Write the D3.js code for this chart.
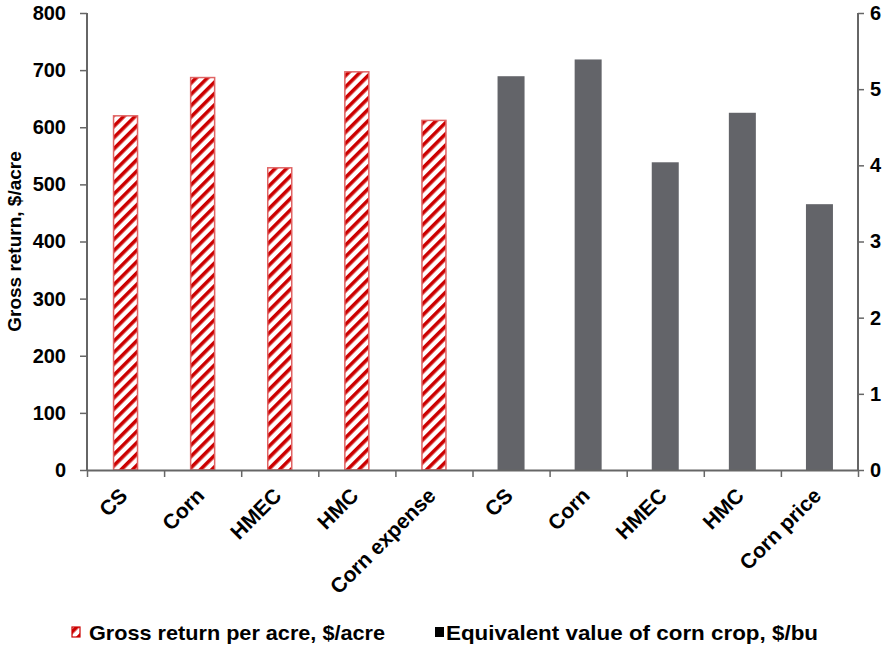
<!DOCTYPE html>
<html>
<head>
<meta charset="utf-8">
<script src="https://cdn.jsdelivr.net/npm/d3@7"></script>
<style>
  body { margin: 0; background: #fff; }
  svg text { font-family: "Liberation Sans", Arial, sans-serif; font-weight: bold; fill: #000; }
</style>
</head>
<body>
<div class="chart"></div>
<script>
let w = 889;
let h = 645;

// data
const categories = ["CS", "Corn", "HMEC", "HMC", "Corn expense", "CS", "Corn", "HMEC", "HMC", "Corn price"];
const grossReturn = [620, 687, 529, 697, 612];          // $/acre, left axis
const cornValue = [5.17, 5.39, 4.04, 4.69, 3.49];        // $/bu, right axis
const leftTicks = [0, 100, 200, 300, 400, 500, 600, 700, 800];
const rightTicks = [0, 1, 2, 3, 4, 5, 6];
const seriesNames = ["Gross return per acre, $/acre", "Equivalent value of corn crop, $/bu"];

let plotL = 87, plotR = 858, plotT = 13, plotB = 470;

const svg = d3.select(".chart")
  .append("svg")
  .attr("width", w)
  .attr("height", h);

const defs = svg.append("defs");
const pat = defs.append("pattern")
  .attr("id", "hatch")
  .attr("patternUnits", "userSpaceOnUse")
  .attr("width", 8)
  .attr("height", 8)
  .attr("patternTransform", "rotate(45)");
pat.append("rect").attr("width", 8).attr("height", 8).attr("fill", "#fff");
pat.append("rect").attr("width", 3.6).attr("height", 8).attr("fill", "#cc0000");

const xScale = d3.scaleBand()
  .domain(d3.range(categories.length))
  .range([plotL, plotR]);

const xLin = d3.scaleLinear()
  .domain([0, categories.length])
  .range([plotL, plotR]);

const yLeft = d3.scaleLinear().domain([0, 800]).range([plotB, plotT]);
const yRight = d3.scaleLinear().domain([0, 6]).range([plotB, plotT]);

// red hatched bars
let redW = 24;
svg.selectAll("rect.red")
  .data(grossReturn)
  .enter()
  .append("rect")
  .attr("class", "red")
  .attr("x", (d, i) => xScale(i) + xScale.bandwidth() / 2 - redW / 2)
  .attr("y", d => yLeft(d))
  .attr("width", redW)
  .attr("height", d => plotB - yLeft(d))
  .attr("fill", "url(#hatch)")
  .attr("stroke", "#e06464")
  .attr("stroke-width", 1.5);

// gray bars
let grayW = 27;
svg.selectAll("rect.gray")
  .data(cornValue)
  .enter()
  .append("rect")
  .attr("class", "gray")
  .attr("x", (d, i) => xScale(i + 5) + xScale.bandwidth() / 2 - grayW / 2)
  .attr("y", d => yRight(d))
  .attr("width", grayW)
  .attr("height", d => plotB - yRight(d))
  .attr("fill", "#636469");

// axes
const axisColor = "#666";

const yAxisL = svg.append("g")
  .attr("transform", "translate(" + plotL + ",0)")
  .call(d3.axisLeft(yLeft).tickValues(leftTicks).tickSize(7).tickPadding(14));

const yAxisR = svg.append("g")
  .attr("transform", "translate(" + plotR + ",0)")
  .call(d3.axisRight(yRight).tickValues(rightTicks).tickFormat(d3.format("d")).tickSize(6).tickPadding(6));

const xAxis = svg.append("g")
  .attr("transform", "translate(0," + plotB + ")")
  .call(d3.axisBottom(xLin).tickValues(d3.range(categories.length + 1)).tickFormat("").tickSize(7).tickSizeOuter(0));

[yAxisL, yAxisR, xAxis].forEach(g => {
  g.selectAll("path").attr("stroke", axisColor).attr("stroke-width", 2);
  g.selectAll("line").attr("stroke", axisColor).attr("stroke-width", 1.5);
  g.selectAll("text").style("font-size", "20px");
});
yAxisL.select("path").attr("d", "M0," + plotT + "V" + plotB);
yAxisR.select("path").attr("d", "M0," + plotT + "V" + plotB);

// category labels, rotated
svg.selectAll("text.cat")
  .data(categories)
  .enter()
  .append("text")
  .attr("class", "cat")
  .attr("text-anchor", "end")
  .style("font-size", "21px")
  .attr("transform", (d, i) => "translate(" + (xScale(i) + xScale.bandwidth() / 2 + 3) + "," + (plotB + 27) + ") rotate(-45)")
  .text(d => d);

// y axis title
svg.append("text")
  .attr("text-anchor", "middle")
  .style("font-size", "19px")
  .attr("transform", "translate(21," + ((plotT + plotB) / 2) + ") rotate(-90)")
  .text("Gross return, $/acre");

// legend
const leg = svg.append("g");
leg.append("rect")
  .attr("x", 72).attr("y", 627).attr("width", 8).attr("height", 10)
  .attr("fill", "url(#hatch)").attr("stroke", "#cc0000").attr("stroke-width", 1.2);
leg.append("text")
  .attr("x", 89).attr("y", 640)
  .style("font-size", "21px")
  .attr("textLength", 296)
  .attr("lengthAdjust", "spacingAndGlyphs")
  .text(seriesNames[0]);
leg.append("rect")
  .attr("x", 435).attr("y", 627).attr("width", 9).attr("height", 10)
  .attr("fill", "#000");
leg.append("text")
  .attr("x", 446).attr("y", 640)
  .style("font-size", "21px")
  .attr("textLength", 372)
  .attr("lengthAdjust", "spacingAndGlyphs")
  .text(seriesNames[1]);
</script>
</body>
</html>
